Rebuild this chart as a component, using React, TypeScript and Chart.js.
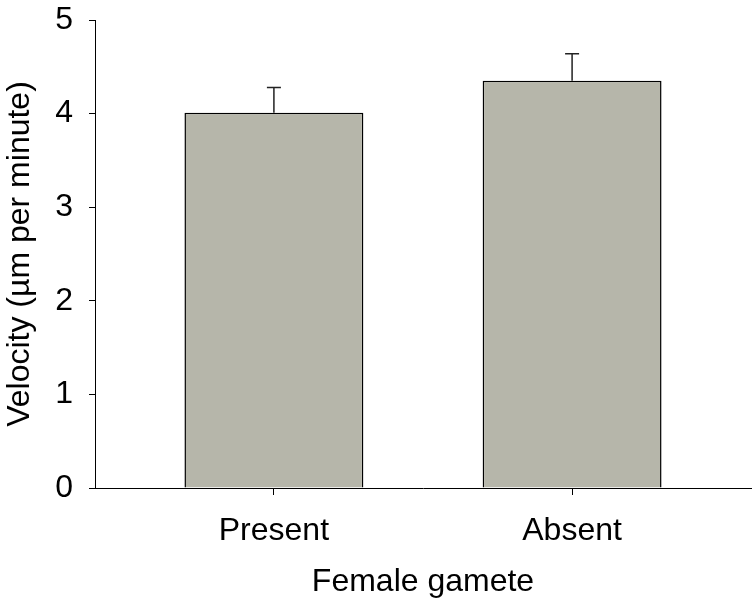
import React, { useEffect, useRef } from "react";
import { Chart, registerables } from "chart.js";

Chart.register(...registerables);

const categories = ["Present", "Absent"];
const velocities = [4.01, 4.35];
const errors = [0.27, 0.29];
const yTicks = [0, 1, 2, 3, 4, 5];

const FONT = "'Liberation Sans', Arial, Helvetica, sans-serif";

const errorBarPlugin = {
  id: "errorBars",
  afterDatasetsDraw(chart: any) {
    const xs = chart.scales.x;
    const ys = chart.scales.y;
    const ctx = chart.ctx;
    ctx.save();
    ctx.strokeStyle = "#222";
    ctx.lineWidth = 1.5;
    categories.forEach((_, i) => {
      const x = xs.getPixelForValue(i + 1);
      const yb = ys.getPixelForValue(velocities[i]);
      const yt = ys.getPixelForValue(velocities[i] + errors[i]);
      ctx.beginPath();
      ctx.moveTo(x, yb);
      ctx.lineTo(x, yt);
      ctx.moveTo(x - 7, yt);
      ctx.lineTo(x + 7, yt);
      ctx.stroke();
    });
    ctx.restore();
  },
};

export default function App() {
  const ref = useRef<HTMLCanvasElement | null>(null);
  useEffect(() => {
    if (!ref.current) return;
    const chart = new Chart(ref.current, {
      type: "bar",
      data: {
        datasets: [
          {
            data: categories.map((c, i) => ({ x: i + 1, y: velocities[i] })),
            backgroundColor: "#b6b6aa",
            borderColor: "#000",
            borderWidth: 1.5,
            barPercentage: 0.6,
            categoryPercentage: 1,
          },
        ],
      },
      options: {
        responsive: false,
        animation: false,
        layout: { padding: { top: 20, right: 4, left: 0, bottom: 0 } },
        plugins: { legend: { display: false }, tooltip: { enabled: false } },
        scales: {
          x: {
            type: "linear",
            min: 0.4,
            max: 2.6,
            offset: false,
            afterBuildTicks: (s: any) => {
              s.ticks = categories.map((_, i) => ({ value: i + 1 }));
            },
            afterFit: (s: any) => {
              s.height = 121;
              s.paddingLeft = 0;
              s.paddingRight = 0;
            },
            ticks: {
              callback: (v: any) => categories[Number(v) - 1] ?? "",
              color: "#000",
              font: { family: FONT, size: 32 },
              padding: 17,
              maxRotation: 0,
              autoSkip: false,
            },
            grid: {
              offset: false,
              drawOnChartArea: false,
              drawTicks: true,
              tickLength: 7,
              color: "#000",
              lineWidth: 1,
            },
            border: { display: true, color: "#000", width: 1 },
            title: {
              display: true,
              text: "Female gamete",
              color: "#000",
              font: { family: FONT, size: 32 },
              padding: { top: 0, bottom: 8 },
            },
          },
          y: {
            min: 0,
            max: 5,
            afterBuildTicks: (s: any) => {
              s.ticks = yTicks.map((v) => ({ value: v }));
            },
            afterFit: (s: any) => {
              s.width = 95;
              s.paddingTop = 0;
              s.paddingBottom = 0;
            },
            ticks: {
              color: "#000",
              font: { family: FONT, size: 32 },
              padding: 16,
            },
            grid: {
              drawOnChartArea: false,
              drawTicks: true,
              tickLength: 6,
              color: "#000",
              lineWidth: 1,
            },
            border: { display: true, color: "#000", width: 1 },
            title: {
              display: true,
              text: "Velocity (µm per minute)",
              color: "#000",
              font: { family: FONT, size: 32 },
              padding: { top: 1, bottom: 0 },
            },
          },
        },
      },
      plugins: [errorBarPlugin],
    } as any);
    return () => chart.destroy();
  }, []);
  return (
    <div style={{ position: "absolute", left: 0, top: 0, width: 755, height: 609, background: "#fff" }}>
      <canvas ref={ref} width={755} height={609} style={{ display: "block" }} />
    </div>
  );
}
